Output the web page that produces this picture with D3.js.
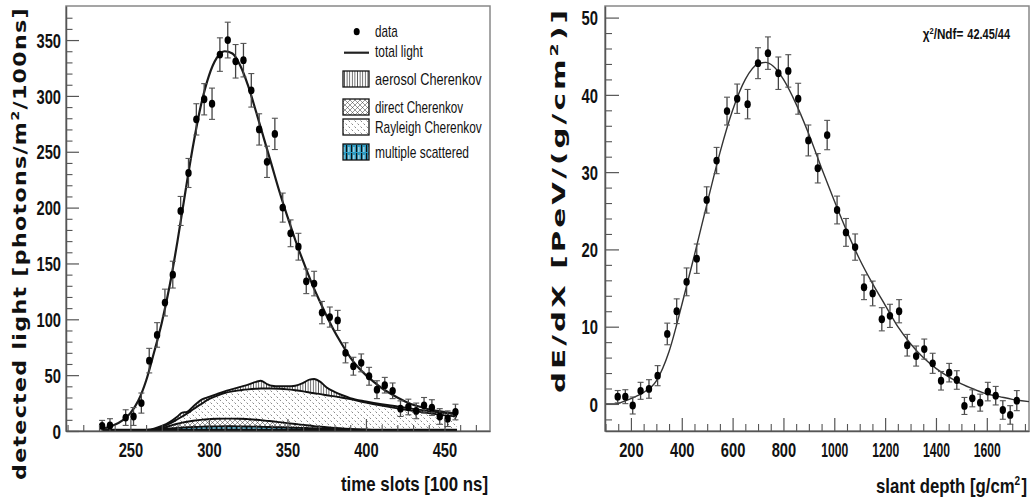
<!DOCTYPE html>
<html><head><meta charset="utf-8">
<script src="https://cdn.jsdelivr.net/npm/d3@7"></script>
<style>body{margin:0;background:#fff;}</style>
</head><body>
<svg id="c" width="1032" height="502"></svg>
<script>
// ---------- data (left panel) ----------
const timeSlots = [232,237,247,252,257,262,267,272,277,282,287,292,297,302,307,312,317,322,327,332,337,342,347,352,357,362,367,372,377,382,387,392,397,402,407,412,417,422,427,432,437,442,447,452,457];
const detLight = [4.5,5,12,13,25,63,86,115,140,197,231,279,297,293,337,350,331,332,305,270,241,266,200,177,165,134,132,106,102,99,70,58,61,49,37,41,36,20,21.5,18,23,21,13,11,17];
const detLightErr = [5,6,7,8,9,11,11,12,12,13,13,14,14,14,15,16,15,15,15,14,14,14,13,12,12,11,11,10,9,9,9,8,8,8,8,7,7,7,7,7,7,7,7,7,7];
const fitT = [232,235,240,245,250,255,260,265,270,275,280,285,290,295,300,305,310,315,320,325,330,335,340,345,350,355,360,365,370,375,380,385,390,395,400,405,410,415,420,425,430,435,440,445,450,455,458];
const fitLight = [2,3,5.5,9.5,16,27,45,70,97,130,170,214,256,292,318,334,340,338,327,309,286,262,238,214,192,171,152,134,118,103,89,77,66,57,50,44,38.5,34,30,26.5,23.5,21.5,19.5,18,17,16,15.5];
const compT = [232,240,250,255,260,265,270,275,280,283,286,290,296,300,305,310,315,320,325,330,333,337,340,345,350,355,360,364,367,371,375,380,385,390,400,410,420,430,440,450,458];
const aerosolC = [0,0,0,0.2,0.8,2,4.5,8,13,16.5,17,22,28.5,30.5,33,35.5,37.5,39.5,41.5,44,45,42,40.5,40,40,40.5,43,46,46.5,44,39,35,32,29.5,26.5,24,22,19.8,17.8,16.2,15];
const rayleighC = [0,0,0,0.2,0.6,1.5,3.5,6.5,10.5,13,15.5,19.5,25,28.5,31.5,34,35.5,36.5,37.3,37.8,38,38,38,37.8,37.3,36.5,35.5,34.5,33.8,33,32,31,29.8,28.5,25.5,22.8,20.3,18,16,14,13];
const directC = [0,0,0,0.1,0.4,1.2,2.5,4.5,6.5,7.5,8.3,9.2,10.2,10.6,11,11.1,11.1,11,10.6,10.1,9.7,9.1,8.7,7.9,7.1,6.3,5.5,4.9,4.4,3.9,3.4,2.8,2.3,1.8,1.1,0.7,0.4,0.3,0.2,0.1,0.1];
const multiScat = [0,0,0,0.1,0.3,0.8,1.5,2.2,2.8,3.1,3.3,3.6,3.9,4.0,4.1,4.2,4.2,4.1,4.0,3.9,3.8,3.6,3.5,3.3,3.1,2.9,2.7,2.5,2.4,2.2,2.0,1.8,1.6,1.4,1.1,0.9,0.7,0.6,0.5,0.4,0.4];
const leftXTicks = [250,300,350,400,450];
const leftYTicks = [0,50,100,150,200,250,300,350];
const legendLabels = ["data","total light","aerosol Cherenkov","direct Cherenkov","Rayleigh Cherenkov","multiple scattered"];

// ---------- data (right panel) ----------
const depth = [148,178,207,238,271,305,343,380,419,459,498,537,578,618,659,700,739,780,819,858,898,935,972,1011,1046,1082,1117,1151,1187,1219,1255,1287,1322,1354,1387,1420,1452,1482,1512,1543,1574,1604,1635,1663,1692,1718];
const dEdX = [0.94,0.94,-0.2,1.7,1.94,3.66,9.06,12.0,15.8,18.8,26.4,31.5,37.9,39.5,38.8,44.1,45.4,42.8,43.1,39.5,34.1,30.5,34.8,25.1,22.2,20.3,15.1,14.3,10.96,11.4,12.0,7.6,6.2,7.1,5.26,3.0,4.05,3.1,-0.26,0.73,0.17,1.6,1.07,-0.78,-1.42,0.43];
const dEdXErr = [0.8,0.9,1.1,1.1,1.2,1.3,1.4,1.6,1.8,1.9,1.7,1.7,1.8,1.9,1.9,2.0,2.1,2.1,2.1,2.0,2.0,1.9,1.9,1.8,1.8,1.7,1.6,1.6,1.5,1.5,1.5,1.4,1.3,1.3,1.3,1.2,1.2,1.2,1.1,1.1,1.1,1.2,1.2,1.2,1.2,1.3];
const fitDepth = [98,140,170,200,250,300,350,400,450,500,550,600,650,700,730,760,800,850,900,950,1000,1050,1100,1150,1200,1250,1300,1350,1400,1450,1500,1550,1600,1650,1700,1766];
const fitdEdX = [0,0,0.3,0.7,1.5,3.0,6.8,12.8,19.3,26.0,32.5,38.0,42.0,44.0,44.2,43.7,42.0,38.8,34.9,30.5,26.3,22.3,18.7,15.6,12.8,10.0,7.8,6.0,4.6,3.5,2.6,1.9,1.3,0.95,0.6,0.3];
const rightXTicks = [200,400,600,800,1000,1200,1400,1600];
const rightYTicks = [0,10,20,30,40,50];
const chiLabel = "42.45/44";

// ---------- drawing ----------
const svg = d3.select("#c");
const NUMFONT = "'Liberation Sans Narrow','Liberation Sans',Arial,sans-serif";
const TITLEFONT = "'DejaVu Sans','Liberation Sans',sans-serif";
const defs = svg.append("defs");

// patterns
const pA = defs.append("pattern").attr("id","pAer").attr("patternUnits","userSpaceOnUse").attr("width",2.6).attr("height",10);
pA.append("rect").attr("width",2.6).attr("height",10).attr("fill","#fff");
pA.append("line").attr("x1",1.3).attr("x2",1.3).attr("y1",0).attr("y2",10).attr("stroke","#222").attr("stroke-width",0.7);

const pR = defs.append("pattern").attr("id","pRay").attr("patternUnits","userSpaceOnUse").attr("width",6).attr("height",6);
pR.append("rect").attr("width",6).attr("height",6).attr("fill","#fff");
pR.append("line").attr("x1",0.5).attr("y1",0.5).attr("x2",2).attr("y2",2).attr("stroke","#555").attr("stroke-width",0.7);
pR.append("line").attr("x1",3.5).attr("y1",3.5).attr("x2",5).attr("y2",5).attr("stroke","#555").attr("stroke-width",0.7);

const pD = defs.append("pattern").attr("id","pDir").attr("patternUnits","userSpaceOnUse").attr("width",5).attr("height",5);
pD.append("rect").attr("width",5).attr("height",5).attr("fill","#fff");
pD.append("path").attr("d","M0,0L5,5M5,0L0,5").attr("stroke","#333").attr("stroke-width",0.5);

const pM = defs.append("pattern").attr("id","pMs").attr("patternUnits","userSpaceOnUse").attr("width",5).attr("height",8);
pM.append("rect").attr("width",5).attr("height",8).attr("fill","#2f9cc2");
pM.append("rect").attr("x",1).attr("y",1).attr("width",1.2).attr("height",7).attr("fill","#111");
pM.append("rect").attr("x",3.5).attr("y",3).attr("width",0.8).attr("height",5).attr("fill","#fff");

defs.append("clipPath").attr("id","clipL").append("rect").attr("x",66).attr("y",6).attr("width",424).attr("height",425);
defs.append("clipPath").attr("id","clipR").append("rect").attr("x",605).attr("y",6).attr("width",424).attr("height",425);

function labelLen(s){ return ({1:8.5,2:16.5,3:24.5,4:27})[s.length]; }

function styleAxis(sel){
  sel.attr("font-family",NUMFONT).attr("font-size",20).attr("font-weight","bold");
  sel.select(".domain").attr("stroke","#555").attr("stroke-width",1.5);
  sel.selectAll(".tick line").attr("stroke","#555").attr("stroke-width",1.2);
  sel.selectAll(".tick text").attr("fill","#111")
    .attr("textLength", function(){ return labelLen(this.textContent); })
    .attr("lengthAdjust","spacingAndGlyphs");
}
function minorAxis(g, axis, transform){
  const s = g.append("g").attr("transform",transform).call(axis);
  s.select(".domain").remove();
  s.selectAll(".tick line").attr("stroke","#555").attr("stroke-width",1.1);
  s.selectAll(".tick text").remove();
}

function errorBars(g, xs, ys, es, x, y, clip){
  const gg = g.append("g").attr("clip-path",`url(#${clip})`);
  xs.forEach((xv,i)=>{
    const px = x(xv), lo = y(ys[i]-es[i]), hi = y(ys[i]+es[i]);
    gg.append("line").attr("x1",px).attr("x2",px).attr("y1",lo).attr("y2",hi).attr("stroke","#444").attr("stroke-width",1.3);
    gg.append("line").attr("x1",px-3).attr("x2",px+3).attr("y1",lo).attr("y2",lo).attr("stroke","#555").attr("stroke-width",1.1);
    gg.append("line").attr("x1",px-3).attr("x2",px+3).attr("y1",hi).attr("y2",hi).attr("stroke","#555").attr("stroke-width",1.1);
    gg.append("ellipse").attr("cx",px).attr("cy",y(ys[i])).attr("rx",3.2).attr("ry",3.9).attr("fill","#000");
  });
}

// ===== LEFT PANEL =====
const xL = d3.scaleLinear().domain([209,479]).range([66,490]);
const yL = d3.scaleLinear().domain([0,380.5]).range([431,6]);
const gL = svg.append("g");
gL.append("rect").attr("x",66).attr("y",6).attr("width",424).attr("height",425).attr("fill","none").attr("stroke","#888").attr("stroke-width",1.5);

const comps = [
  {vals:aerosolC, fill:"url(#pAer)"},
  {vals:rayleighC, fill:"url(#pRay)"},
  {vals:directC, fill:"url(#pDir)"},
  {vals:multiScat, fill:"url(#pMs)"}
];
const gC = gL.append("g").attr("clip-path","url(#clipL)");
comps.forEach(c=>{
  const pts = compT.map((t,i)=>({t, v:c.vals[i]}));
  const area = d3.area().x(d=>xL(d.t)).y0(yL(0)).y1(d=>yL(d.v)).curve(d3.curveMonotoneX);
  const line = d3.line().x(d=>xL(d.t)).y(d=>yL(d.v)).curve(d3.curveMonotoneX);
  gC.append("path").attr("d",area(pts)).attr("fill",c.fill).attr("stroke","none");
  gC.append("path").attr("d",line(pts)).attr("fill","none").attr("stroke","#111").attr("stroke-width",1.9);
});
gC.append("line").attr("x1",xL(232)).attr("x2",xL(458)).attr("y1",yL(0)-1).attr("y2",yL(0)-1).attr("stroke","#111").attr("stroke-width",2.5);

// total light fit
const totLine = d3.line().x((d,i)=>xL(fitT[i])).y(d=>yL(d)).curve(d3.curveMonotoneX);
gC.append("path").attr("d",totLine(fitLight)).attr("fill","none").attr("stroke","#1a1a1a").attr("stroke-width",2.2);

errorBars(gL, timeSlots, detLight, detLightErr, xL, yL, "clipL");

// axes
const axLB = gL.append("g").attr("transform","translate(0,431)").call(d3.axisBottom(xL).tickValues(leftXTicks).tickSize(-12).tickSizeOuter(0).tickFormat(d3.format("d")));
styleAxis(axLB); axLB.selectAll(".tick text").attr("y",26).attr("dy",null);
minorAxis(gL, d3.axisBottom(xL).tickValues(d3.range(210,480,10).filter(v=>v%50)).tickSize(-6).tickFormat(""), "translate(0,431)");
const axLL = gL.append("g").attr("transform","translate(66,0)").call(d3.axisLeft(yL).tickValues(leftYTicks).tickSize(-13).tickSizeOuter(0).tickFormat(d3.format("d")));
styleAxis(axLL); axLL.selectAll(".tick text").attr("x",-5).attr("dy","0.36em");
minorAxis(gL, d3.axisLeft(yL).tickValues(d3.range(10,380,10).filter(v=>v%50)).tickSize(-6.5).tickFormat(""), "translate(66,0)");

// titles
const tL = gL.append("text").attr("transform","translate(26,480) rotate(-90)")
  .attr("font-family",TITLEFONT).attr("font-weight","bold").attr("font-size",17).attr("fill","#111")
  .attr("letter-spacing",1)
  .attr("textLength",473).attr("lengthAdjust","spacingAndGlyphs");
tL.append("tspan").text("detected light [photons/m");
tL.append("tspan").attr("dy",-7).attr("font-size",11).text("2");
tL.append("tspan").attr("dy",7).text("/100ns]");

gL.append("text").attr("transform","translate(488,491) scale(0.74,1)").attr("text-anchor","end")
  .attr("font-family",NUMFONT).attr("font-weight","bold").attr("font-size",20).attr("fill","#111")
  .attr("textLength",147/0.74).attr("lengthAdjust","spacingAndGlyphs").text("time slots [100 ns]");

// legend
const lg = gL.append("g").attr("font-family",NUMFONT).attr("font-size",17).attr("fill","#111");
const rowsY = [37,57,85,113,133,158];
lg.append("ellipse").attr("cx",356.7).attr("cy",31.7).attr("rx",3).attr("ry",3.6).attr("fill","#000");
lg.append("line").attr("x1",344).attr("x2",369).attr("y1",52.7).attr("y2",52.7).attr("stroke","#222").attr("stroke-width",2.2);
const boxFills = ["url(#pAer)","url(#pDir)","url(#pRay)","url(#pMs)"];
boxFills.forEach((f,i)=>{
  const cy = rowsY[i+2]-6;
  lg.append("rect").attr("x",343).attr("y",cy-8).attr("width",26).attr("height",16).attr("fill",f).attr("stroke","#111").attr("stroke-width",1.3);
});
const txtLens = [22.7,47.7,106.7,88,106.7,94];
legendLabels.forEach((s,i)=>{
  lg.append("text").attr("x",375).attr("y",rowsY[i]).attr("textLength",txtLens[i]).attr("lengthAdjust","spacingAndGlyphs").text(s);
});

// ===== RIGHT PANEL =====
const xR = d3.scaleLinear().domain([98,1766]).range([605,1029]);
const yR = d3.scaleLinear().domain([-3.5,51.5]).range([431,6]);
const gR = svg.append("g");
gR.append("rect").attr("x",605).attr("y",6).attr("width",424).attr("height",425).attr("fill","none").attr("stroke","#888").attr("stroke-width",1.5);

const fitR = d3.line().x((d,i)=>xR(fitDepth[i])).y(d=>yR(d)).curve(d3.curveMonotoneX);
gR.append("path").attr("clip-path","url(#clipR)").attr("d",fitR(fitdEdX)).attr("fill","none").attr("stroke","#333").attr("stroke-width",1.4);

errorBars(gR, depth, dEdX, dEdXErr, xR, yR, "clipR");

const axRB = gR.append("g").attr("transform","translate(0,431)").call(d3.axisBottom(xR).tickValues(rightXTicks).tickSize(-13).tickSizeOuter(0).tickFormat(d3.format("d")));
styleAxis(axRB); axRB.selectAll(".tick text").attr("y",26).attr("dy",null);
minorAxis(gR, d3.axisBottom(xR).tickValues(d3.range(100,1766,50).filter(v=>v%200)).tickSize(-7).tickFormat(""), "translate(0,431)");
const axRL = gR.append("g").attr("transform","translate(605,0)").call(d3.axisLeft(yR).tickValues(rightYTicks).tickSize(-14).tickSizeOuter(0).tickFormat(d3.format("d")));
styleAxis(axRL); axRL.selectAll(".tick text").attr("x",-7).attr("dy","0.36em");
minorAxis(gR, d3.axisLeft(yR).tickValues(d3.range(-2,51,2).filter(v=>v%10)).tickSize(-7).tickFormat(""), "translate(605,0)");

const tR = gR.append("text").attr("transform","translate(565,393) rotate(-90)")
  .attr("font-family",TITLEFONT).attr("font-weight","bold").attr("font-size",17).attr("fill","#111")
  .attr("letter-spacing",1.8)
  .attr("textLength",386).attr("lengthAdjust","spacingAndGlyphs");
tR.append("tspan").text("dE/dX [PeV/(g/cm");
tR.append("tspan").attr("dy",-7).attr("font-size",11).text("2");
tR.append("tspan").attr("dy",7).text(")]");

// slant depth title: main part + superscript + bracket as separate pieces
const tX = gR.append("text").attr("transform","translate(1027,493) scale(0.74,1)").attr("text-anchor","end")
  .attr("font-family",NUMFONT).attr("font-weight","bold").attr("font-size",20).attr("fill","#111")
  .attr("textLength",151/0.74).attr("lengthAdjust","spacingAndGlyphs");
tX.append("tspan").text("slant depth [g/cm");
tX.append("tspan").attr("dy",-8).attr("font-size",12).text("2");
tX.append("tspan").attr("dy",8).attr("dx",1.5).text("]");

const chi = gR.append("text").attr("x",922.7).attr("y",39).attr("font-family",NUMFONT).attr("font-weight","bold").attr("font-size",14).attr("fill","#111")
  .attr("textLength",40.6).attr("lengthAdjust","spacingAndGlyphs");
chi.append("tspan").text("χ");
chi.append("tspan").attr("dy",-5).attr("font-size",9).text("2");
chi.append("tspan").attr("dy",5).text("/Ndf=");
gR.append("text").attr("x",967.3).attr("y",39).attr("font-family",NUMFONT).attr("font-weight","bold").attr("font-size",14).attr("fill","#111")
  .attr("textLength",42.7).attr("lengthAdjust","spacingAndGlyphs").text(chiLabel);
</script>
</body></html>
